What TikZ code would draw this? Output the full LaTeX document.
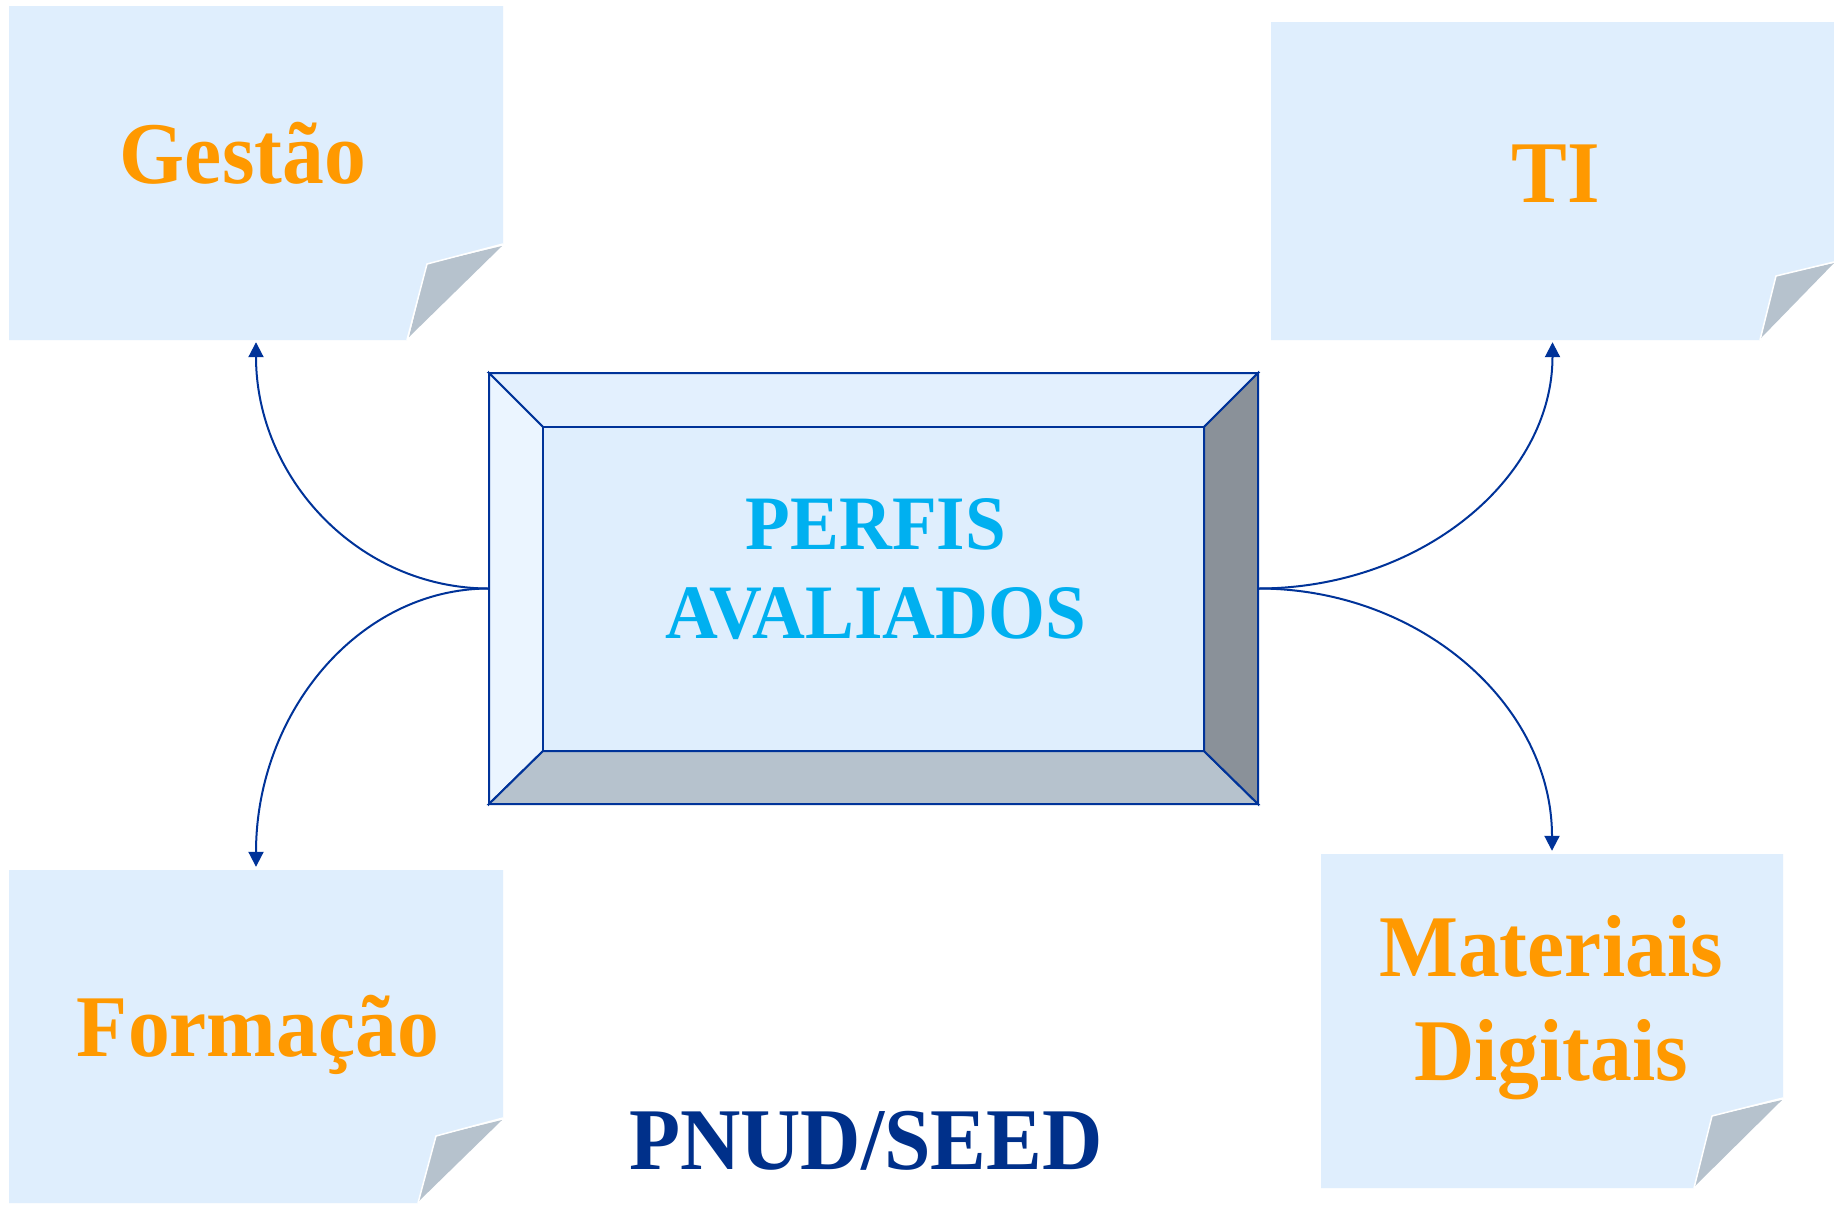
\documentclass[tikz,border=0pt]{standalone}
\usepackage{fontspec}
\setmainfont[FakeStretch=0.95]{Liberation Serif}
\usetikzlibrary{arrows.meta,calc}
\definecolor{notefill}{HTML}{DFEEFD}
\definecolor{foldgrey}{HTML}{B6C2CD}
\definecolor{beveltop}{HTML}{E3F0FE}
\definecolor{bevelleft}{HTML}{EBF5FF}
\definecolor{bevelright}{HTML}{8A9199}
\definecolor{navy}{HTML}{003399}
\definecolor{cyantext}{HTML}{00B0F0}
\definecolor{orangetext}{HTML}{FF9900}
\definecolor{pnudblue}{HTML}{00308A}
\tikzset{
  paper/.style={fill=notefill, draw=none},
  foldtri/.style={fill=foldgrey, draw=none},
  foldedge/.style={draw=white, line width=1.5pt, line join=miter},
  anchorbox/.style={draw=none, inner sep=0pt, rectangle},
  bevel/.style={draw=navy, line width=2pt, line join=miter},
  conn/.style={draw=navy, line width=2pt, -{Triangle[width=15pt,length=15pt]}},
  labeltext/.style={anchor=base, inner sep=0pt, text=orangetext, font=\fontsize{88}{104}\selectfont\bfseries, align=center},
  centertext/.style={anchor=base, inner sep=0pt, text=cyantext, font=\fontsize{77}{89}\selectfont\bfseries, align=center},
  footertext/.style={anchor=base, inner sep=0pt, text=pnudblue, font=\fontsize{88}{103}\selectfont\bfseries}
}
\begin{document}
\begin{tikzpicture}[x=1pt,y=-1pt]
\fill[white] (0,0) rectangle (1834,1205);
\useasboundingbox (0,0) rectangle (1834,1205);

% ---- note papers ----
% Gestao
\fill[paper] (9,6) -- (503,6) -- (503,244) -- (427,264) -- (407,340) -- (9,340) -- cycle;
\fill[foldtri] (502,246) -- (427,264) -- (409,337) -- cycle;
\draw[foldedge] (503,244) -- (427,264) -- (407,340);
\node[anchorbox, minimum width=494pt, minimum height=334pt] (gestao) at (256,173) {};
% TI
\fill[paper] (1271,22) -- (1834,22) -- (1834,262) -- (1776,276) -- (1760,340) -- (1271,340) -- cycle;
\fill[foldtri] (1834,263) -- (1776,276) -- (1761,338) -- cycle;
\draw[foldedge] (1834,262) -- (1776,276) -- (1760,340);
\node[anchorbox, minimum width=563pt, minimum height=318pt] (ti) at (1552.5,181) {};
% Formacao
\fill[paper] (9,870) -- (503,870) -- (503,1118) -- (436,1136) -- (418,1203) -- (9,1203) -- cycle;
\fill[foldtri] (502,1120) -- (436,1136) -- (419,1201) -- cycle;
\draw[foldedge] (503,1118) -- (436,1136) -- (418,1203);
\node[anchorbox, minimum width=494pt, minimum height=333pt] (formacao) at (256,1036.5) {};
% Materiais Digitais
\fill[paper] (1321,854) -- (1783,854) -- (1783,1098) -- (1712,1116) -- (1694,1188) -- (1321,1188) -- cycle;
\fill[foldtri] (1782,1100) -- (1712,1116) -- (1695,1186) -- cycle;
\draw[foldedge] (1783,1098) -- (1712,1116) -- (1694,1188);
\node[anchorbox, minimum width=462pt, minimum height=334pt] (materiais) at (1552,1021) {};

% ---- central bevelled box ----
\filldraw[bevel, fill=beveltop] (489,373) -- (1258,373) -- (1204,427) -- (543,427) -- cycle;
\filldraw[bevel, fill=bevelleft] (489,373) -- (543,427) -- (543,751) -- (489,804) -- cycle;
\filldraw[bevel, fill=foldgrey] (489,804) -- (543,751) -- (1204,751) -- (1258,804) -- cycle;
\filldraw[bevel, fill=bevelright] (1258,373) -- (1204,427) -- (1204,751) -- (1258,804) -- cycle;
\filldraw[bevel, fill=notefill] (543,427) rectangle (1204,751);
\node[anchorbox, minimum width=769pt, minimum height=431pt] (perfis) at (873.5,588.5) {};

% ---- texts ----
\node[labeltext] (tgestao) at (243,183) {Gestão};
\node[labeltext] (tti) at (1556,202) {TI};
\node[labeltext] (tformacao) at (258,1056) {Formação};
\node[labeltext] (tmateriais) at (1551,1080) {Materiais\\Digitais};
\node[centertext] (tperfis) at (876,638) {PERFIS\\AVALIADOS};
\node[footertext] (tpnud) at (866,1169) {PNUD/SEED};

% ---- connectors ----
\draw[conn] (perfis.west) .. controls +(-130,0) and +(0,136) .. ($(gestao.south)+(0,2)$);
\draw[conn] (perfis.west) .. controls +(-130,0) and +(0,-154) .. ($(formacao.north)+(0,-3)$);
\draw[conn] (perfis.east) .. controls +(163,0) and +(0,136) .. ($(ti.south)+(0,2)$);
\draw[conn] (perfis.east) .. controls +(163,0) and +(0,-145) .. ($(materiais.north)+(0,-3)$);
\end{tikzpicture}
\end{document}
